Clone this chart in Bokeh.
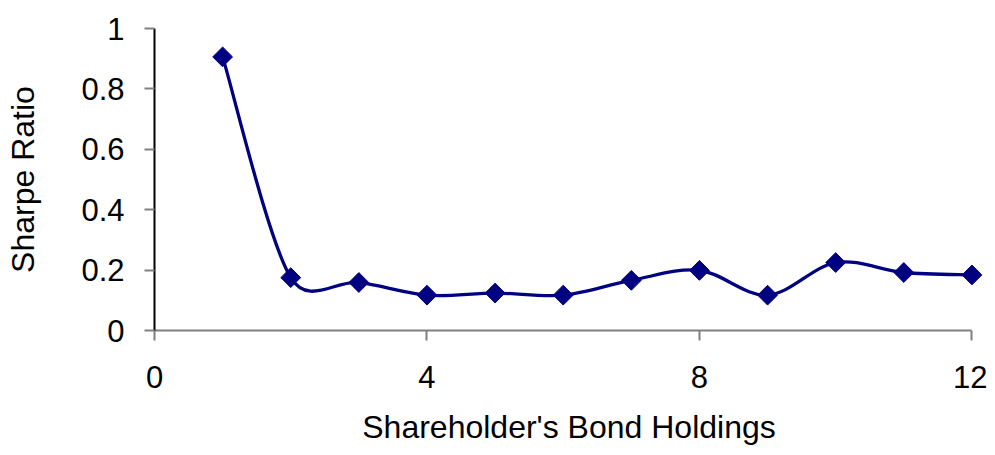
import numpy as np
from bokeh.plotting import figure
from bokeh.models import Range1d, FixedTicker
from bokeh.embed import file_html
from bokeh.resources import INLINE

# ---- data ----
holdings = [1, 2, 3, 4, 5, 6, 7, 8, 9, 10, 11, 12]
sharpe = [0.906, 0.175, 0.159, 0.117, 0.124, 0.117, 0.166, 0.199, 0.117, 0.225, 0.192, 0.184]
x_ticks = [0, 4, 8, 12]
x_tick_labels = ["0", "4", "8", "12"]
y_ticks = [0, 0.2, 0.4, 0.6, 0.8, 1.0]
y_tick_labels = ["0", "0.2", "0.4", "0.6", "0.8", "1"]

NAVY = "#000080"
FONT = "Liberation Sans"

# pixel scale of the plot frame (used only to shape the smoothed curve like Excel)
SX, SY = 68.1, 302.6


def smooth_segments(xs, ys, sx, sy):
    P = np.column_stack([np.asarray(xs, float) * sx, np.asarray(ys, float) * sy])
    n = len(P)
    seg = {k: [] for k in ("x0", "y0", "x1", "y1", "cx0", "cy0", "cx1", "cy1")}
    for i in range(n - 1):
        p0 = P[i - 1] if i > 0 else P[i]
        p1, p2 = P[i], P[i + 1]
        p3 = P[i + 2] if i + 2 < n else P[i + 1]
        d12 = np.linalg.norm(p2 - p1)
        t1, t2 = p2 - p0, p3 - p1
        l1, l2 = np.linalg.norm(t1), np.linalg.norm(t2)
        c1 = p1 + t1 / l1 * min(l1 / 6, d12 / 2) if l1 > 0 else p1
        c2 = p2 - t2 / l2 * min(l2 / 6, d12 / 2) if l2 > 0 else p2
        seg["x0"].append(p1[0] / sx); seg["y0"].append(p1[1] / sy)
        seg["x1"].append(p2[0] / sx); seg["y1"].append(p2[1] / sy)
        seg["cx0"].append(c1[0] / sx); seg["cy0"].append(c1[1] / sy)
        seg["cx1"].append(c2[0] / sx); seg["cy1"].append(c2[1] / sy)
    return seg


p = figure(
    width=987, height=447,
    x_range=Range1d(0, 12.17), y_range=Range1d(0, 1),
    output_backend="svg", toolbar_location=None,
    min_border_left=154, min_border_right=4, min_border_top=28, min_border_bottom=117,
)
p.outline_line_color = None
p.xgrid.visible = False
p.ygrid.visible = False
p.background_fill_color = "white"
p.border_fill_color = "white"

seg = smooth_segments(holdings, sharpe, SX, SY)
p.bezier(x0=seg["x0"], y0=seg["y0"], x1=seg["x1"], y1=seg["y1"],
         cx0=seg["cx0"], cy0=seg["cy0"], cx1=seg["cx1"], cy1=seg["cy1"],
         line_color=NAVY, line_width=3.3)
p.scatter(holdings, sharpe, marker="square", angle=np.pi / 4, size=14,
          fill_color=NAVY, line_color=NAVY)

# axes
for ax in (p.xaxis[0], p.yaxis[0]):
    ax.major_tick_in = 0
    ax.major_tick_out = 10
    ax.minor_tick_line_color = None
    ax.major_tick_line_color = "#808080"
    ax.major_tick_line_width = 2
    ax.axis_line_width = 2
    ax.major_label_text_font = FONT
    ax.major_label_text_font_size = "31px"
    ax.major_label_text_color = "black"
    ax.axis_label_text_font = FONT
    ax.axis_label_text_font_size = "32px"
    ax.axis_label_text_font_style = "normal"
    ax.axis_label_text_color = "black"

xa = p.xaxis[0]
xa.ticker = FixedTicker(ticks=x_ticks)
xa.major_label_overrides = {t: s for t, s in zip(x_ticks, x_tick_labels)}
xa.bounds = (0, 12)
xa.axis_line_color = "#808080"
xa.major_label_standoff = 25
xa.axis_label = "Shareholder's Bond Holdings"
xa.axis_label_standoff = 18

ya = p.yaxis[0]
ya.ticker = FixedTicker(ticks=y_ticks)
ya.major_label_overrides = {t: s for t, s in zip(y_ticks, y_tick_labels)}
ya.axis_line_color = "black"
ya.major_label_standoff = 20
ya.axis_label = "Sharpe Ratio"
ya.axis_label_standoff = 37

open("out.html", "w").write(file_html(p, INLINE))
